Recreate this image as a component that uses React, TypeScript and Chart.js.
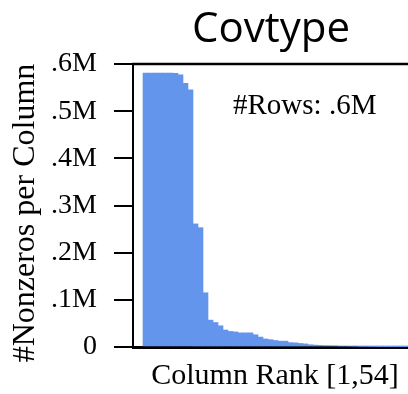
import React, { useEffect, useRef } from 'react';
import { Chart, registerables } from 'chart.js';

Chart.register(...registerables);

// Column rank (1..54) after sorting by number of nonzeros
const columnRanks = [
  1, 2, 3, 4, 5, 6, 7, 8, 9, 10,
  11, 12, 13, 14, 15, 16, 17, 18, 19, 20,
  21, 22, 23, 24, 25, 26, 27, 28, 29, 30,
  31, 32, 33, 34, 35, 36, 37, 38, 39, 40,
  41, 42, 43, 44, 45, 46, 47, 48, 49, 50,
  51, 52, 53, 54,
];

// Nonzeros per column, in millions
const nonzerosM = [
  0.581, 0.581, 0.581, 0.581, 0.581, 0.581, 0.58, 0.577, 0.559, 0.545,
  0.261, 0.253, 0.115, 0.057, 0.052, 0.045, 0.036, 0.033, 0.032, 0.03,
  0.03, 0.03, 0.026, 0.021, 0.017, 0.0156, 0.0138, 0.0124, 0.0124, 0.0093,
  0.0088, 0.0075, 0.0066, 0.0048, 0.004, 0.0034, 0.003, 0.0028, 0.0026, 0.0019,
  0.0019, 0.0016, 0.0016, 0.0011, 0.0011, 0.0009, 0.0008, 0.0006, 0.0005, 0.0003,
  0.0002, 0.0001, 0.0001, 0.00001,
];

const yTickValues = [0, 0.1, 0.2, 0.3, 0.4, 0.5, 0.6];
const yTickLabels = ['0', '.1M', '.2M', '.3M', '.4M', '.5M', '.6M'];

const chartTitle = 'Covtype';
const yTitle = '#Nonzeros per Column';
const xTitle = 'Column Rank [1,54]';
const rowsNote = '#Rows: .6M';

const SERIF = '"Liberation Serif", "Times New Roman", serif';

const textPlugin = {
  id: 'texts',
  afterDraw(chart: any) {
    const { ctx, chartArea } = chart;
    ctx.save();
    // top border of the plot box
    ctx.strokeStyle = '#000';
    ctx.lineWidth = 2.5;
    ctx.beginPath();
    ctx.moveTo(chartArea.left - 1, chartArea.top);
    ctx.lineTo(chart.width, chartArea.top);
    ctx.stroke();

    ctx.fillStyle = '#000';
    // title
    ctx.font = '42px "Open Sans", sans-serif';
    ctx.textAlign = 'center';
    ctx.textBaseline = 'alphabetic';
    ctx.fillText(chartTitle, 271, 42);

    // x title
    ctx.font = `30px ${SERIF}`;
    ctx.fillText(xTitle, 275, 384);

    // note
    ctx.textAlign = 'left';
    ctx.font = `29px ${SERIF}`;
    ctx.fillText(rowsNote, 233, 114);

    // y title
    ctx.translate(34, 213);
    ctx.rotate(-Math.PI / 2);
    ctx.textAlign = 'center';
    ctx.font = `32px ${SERIF}`;
    ctx.fillText(yTitle, 0, 0);
    ctx.restore();
  },
};

export default function App() {
  const canvasRef = useRef<HTMLCanvasElement | null>(null);

  useEffect(() => {
    const canvas = canvasRef.current;
    if (!canvas) return;
    const chart = new Chart(canvas, {
      type: 'bar',
      data: {
        datasets: [
          {
            data: columnRanks.map((r, i) => ({ x: r, y: nonzerosM[i] })),
            backgroundColor: '#6495ED',
            borderWidth: 0,
            barPercentage: 1,
            categoryPercentage: 1,
          },
        ],
      },
      options: {
        responsive: false,
        animation: false,
        devicePixelRatio: 1,
        layout: { padding: { top: 64, left: 0, right: 12, bottom: 0 } },
        plugins: {
          legend: { display: false },
          tooltip: { enabled: false },
          title: { display: false },
        },
        scales: {
          x: {
            type: 'linear',
            min: -1.5,
            max: 55.5,
            offset: false,
            ticks: { display: false, stepSize: 10 },
            grid: { display: false },
            border: { display: true, color: '#000', width: 3 },
            afterFit: (s: any) => {
              s.height = 47;
            },
          },
          y: {
            type: 'linear',
            min: 0,
            max: 0.6,
            afterBuildTicks: (s: any) => {
              s.ticks = yTickValues.map((v) => ({ value: v }));
            },
            ticks: {
              padding: 17,
              color: '#000',
              font: { family: SERIF, size: 28 },
              callback: (v: any) => yTickLabels[Math.round(Number(v) * 10)],
            },
            grid: {
              display: true,
              drawOnChartArea: false,
              drawTicks: true,
              tickLength: 19,
              color: '#000',
              lineWidth: 2,
            },
            border: { display: true, color: '#000', width: 2 },
            afterFit: (s: any) => {
              s.width = 133;
            },
          },
        },
      },
      plugins: [textPlugin],
    } as any);
    return () => chart.destroy();
  }, []);

  return (
    <div
      style={{
        position: 'absolute',
        left: 0,
        top: 0,
        width: 408,
        height: 394,
        overflow: 'hidden',
        background: '#fff',
      }}
    >
      <canvas ref={canvasRef} width={430} height={394} style={{ display: 'block' }} />
    </div>
  );
}
